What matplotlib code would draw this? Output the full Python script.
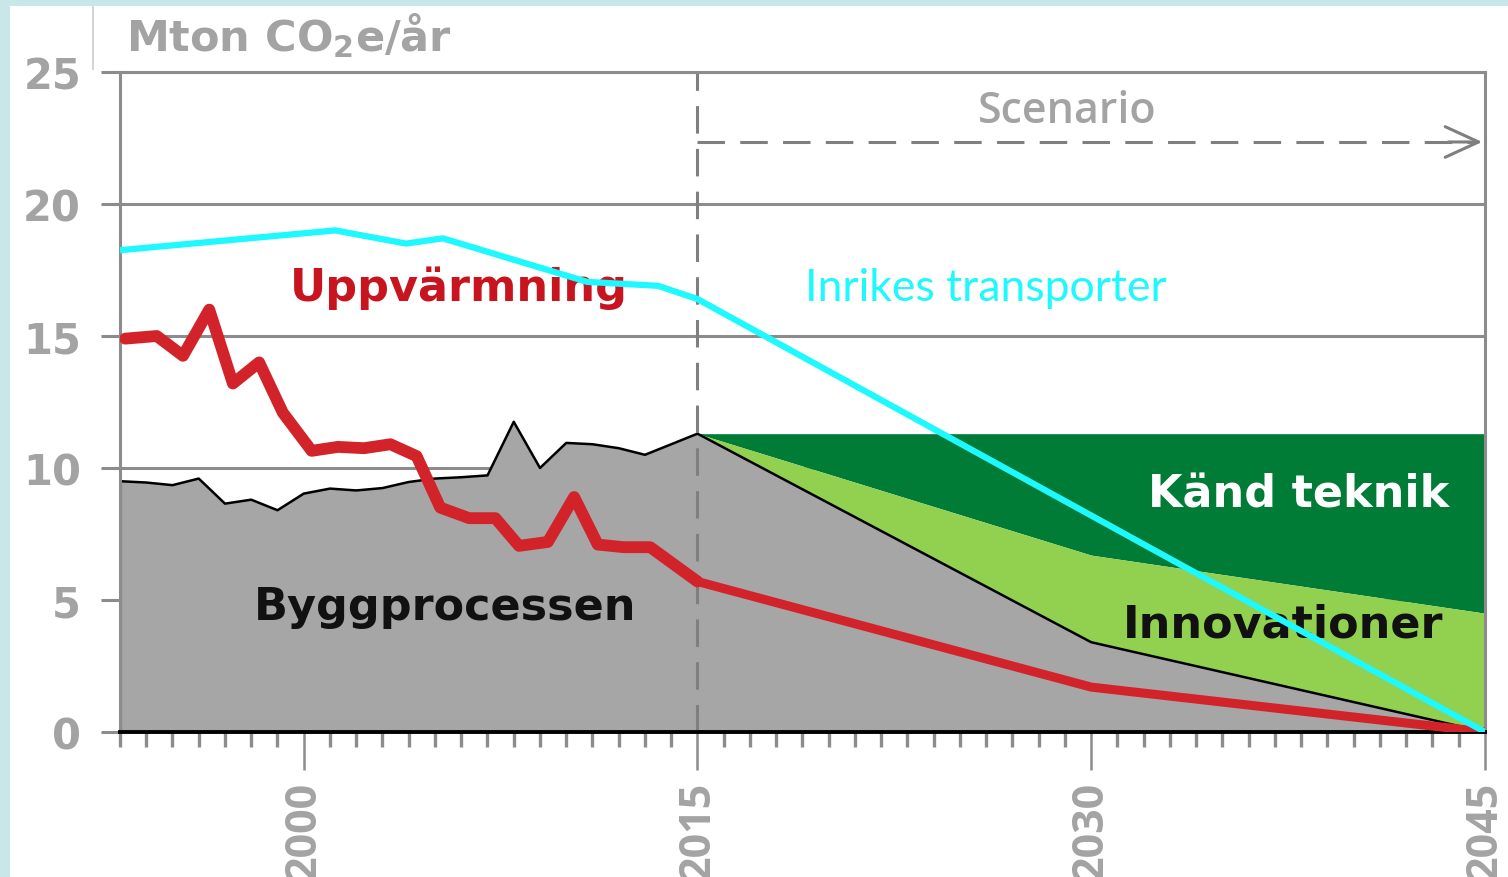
import matplotlib
matplotlib.use("Agg")
import matplotlib.pyplot as plt
from matplotlib.patches import Rectangle
from matplotlib.lines import Line2D

# ---------------- data ----------------
years = list(range(1993, 2016)) + [2030, 2045]
bygg = [9.5, 9.45, 9.35, 9.6, 8.65, 8.8, 8.4, 9.03, 9.22, 9.15, 9.24, 9.47, 9.6,
        9.65, 9.72, 11.75, 10.0, 10.95, 10.9, 10.75, 10.5, 10.9, 11.3, 3.4, 0.0]

scen_years = [2015, 2030, 2045]
bygg_scen = [11.3, 3.4, 0.0]
innov_top = [11.3, 6.7, 4.5]
kand_top = [11.3, 11.3, 11.3]

heat_years = [1993.2, 1994.4, 1995.4, 1996.4, 1997.3, 1998.3, 1999.2, 2000.3, 2001.3,
              2002.3, 2003.3, 2004.3, 2005.2, 2006.3, 2007.3, 2008.2, 2009.3, 2010.3,
              2011.2, 2012.2, 2013.2, 2015, 2030, 2045]
heat = [14.9, 15.0, 14.25, 16.0, 13.2, 14.0, 12.1, 10.65, 10.8, 10.75, 10.9, 10.45,
        8.5, 8.1, 8.1, 7.05, 7.2, 8.9, 7.1, 7.0, 7.0, 5.7, 1.7, 0.0]

trans_years = [1993, 2001.2, 2003.9, 2005.3, 2010.8, 2013.5, 2015, 2045]
trans = [18.25, 19.0, 18.5, 18.7, 17.05, 16.9, 16.4, 0.0]

y_ticks = [0, 5, 10, 15, 20, 25]
x_major = [2000, 2015, 2030, 2045]
x_minor = list(range(1993, 2046))

# ---------------- style ----------------
W, H = 1508, 878
GRID = '#8C8C8C'
TXT_GRAY = '#A3A3A3'
GRAY_FILL = '#A6A6A6'
DARK_GREEN = '#007C37'
LIGHT_GREEN = '#92D050'
RED = '#D2232A'
CYAN = '#1EF8FF'
BOLD = 'DejaVu Sans'

fig = plt.figure(figsize=(W / 100, H / 100), dpi=100)
fig.patch.set_facecolor('#C9E6E9')
fig.add_artist(Rectangle((10 / W, 0), 1 - 10 / W, 1 - 7 / H, transform=fig.transFigure,
                         facecolor='white', edgecolor='none', zorder=-10))
# unit-label box edge
fig.add_artist(Line2D([93 / W, 93 / W], [1 - 8 / H, 1 - 70 / H], transform=fig.transFigure,
                      color='#D0D0D0', lw=1.3))

ax = fig.add_axes([120 / W, 1 - 733 / H, (1485 - 120) / W, (733 - 73) / H])
ax.set_facecolor('white')
ax.set_xlim(1993, 2045)
ax.set_ylim(0, 25)

for side in ['left', 'right', 'top']:
    ax.spines[side].set_color(GRID)
    ax.spines[side].set_linewidth(2.2)
ax.spines['bottom'].set_color('black')
ax.spines['bottom'].set_linewidth(2.8)

ax.set_yticks(y_ticks)
ax.yaxis.grid(True, color=GRID, lw=2.2)
ax.set_axisbelow(True)
ax.tick_params(axis='y', length=14, width=2.2, color=GRID, pad=14,
               labelsize=30, labelcolor=TXT_GRAY)
ax.set_xticks(x_major)
ax.set_xticks(x_minor, minor=True)
ax.tick_params(axis='x', which='major', length=27, width=1.8, color=GRID, pad=8,
               labelsize=31, labelcolor=TXT_GRAY, labelrotation=90)
ax.tick_params(axis='x', which='minor', length=11, width=2.4, color=GRID)
for lbl in ax.get_yticklabels():
    lbl.set_fontweight('bold')
    lbl.set_family(BOLD)
for lbl in ax.get_xticklabels():
    lbl.set_family(['Open Sans', 'DejaVu Sans'])
    lbl.set_fontweight('bold')

# fills
ax.fill_between(scen_years, innov_top, kand_top, color=DARK_GREEN, lw=0, zorder=1)
ax.fill_between(scen_years, bygg_scen, innov_top, color=LIGHT_GREEN, lw=0, zorder=1)
ax.fill_between(years, bygg, 0, facecolor=GRAY_FILL, edgecolor='none', zorder=1.2)
ax.plot(years, bygg, color='black', lw=1.8, zorder=1.5)
ax.plot([years[0], years[0]], [0, bygg[0]], color='black', lw=2.2, zorder=1.5)

# scenario divider + arrow
ax.axvline(2015, color='#7F7F7F', lw=2.2, ls=(0, (9, 5)), zorder=2)
ax.plot([2015, 2044.6], [22.35, 22.35], color='#7F7F7F', lw=2.2, ls=(0, (9, 5)), zorder=2)
ax.annotate('', xy=(2045, 22.35), xytext=(2043.5, 22.35),
            arrowprops=dict(arrowstyle='->,head_length=2.4,head_width=1.1',
                            color='#7F7F7F', lw=2.2), zorder=2)
ax.text(2029.1, 23.55, 'Scenario', color=TXT_GRAY, fontsize=31, fontweight='semibold',
        ha='center', va='center', family=['Open Sans', 'DejaVu Sans'])

# heating line (history thicker than scenario)
n_hist = heat_years.index(2015) + 1
ax.plot(heat_years[:n_hist], heat[:n_hist], color=RED, lw=8.5, solid_joinstyle='round',
        solid_capstyle='round', zorder=3)
ax.plot(heat_years[n_hist - 1:], heat[n_hist - 1:], color=RED, lw=6.5,
        solid_joinstyle='round', zorder=3)

# labels
ax.text(2005.9, 16.85, 'Uppvärmning', color='#C8141E', fontsize=32, fontweight='bold',
        ha='center', va='center', family=BOLD, zorder=4)
ax.text(2005.4, 4.77, 'Byggprocessen', color='#111111', fontsize=32, fontweight='bold',
        ha='center', va='center', family=BOLD, zorder=4)
ax.text(2037.9, 9.0, 'Känd teknik', color='white', fontsize=32, fontweight='bold',
        ha='center', va='center', family=BOLD, zorder=4)
ax.text(2037.3, 4.1, 'Innovationer', color='#111111', fontsize=32, fontweight='bold',
        ha='center', va='center', family=BOLD, zorder=4)
ax.text(2026.0, 16.85, 'Inrikes transporter', color=CYAN, fontsize=32,
        ha='center', va='center', family='Lato', zorder=4)

# transport line on top
ax.plot(trans_years, trans, color=CYAN, lw=4.5, zorder=5, solid_capstyle='butt')

# unit label
fig.text(126 / W, 1 - 36 / H, r'Mton CO$_\mathbf{2}$e/år', color=TXT_GRAY, fontsize=31,
         fontweight='bold', family=BOLD, ha='left', va='center')

fig.savefig('out.png', dpi=100, facecolor=fig.get_facecolor())
